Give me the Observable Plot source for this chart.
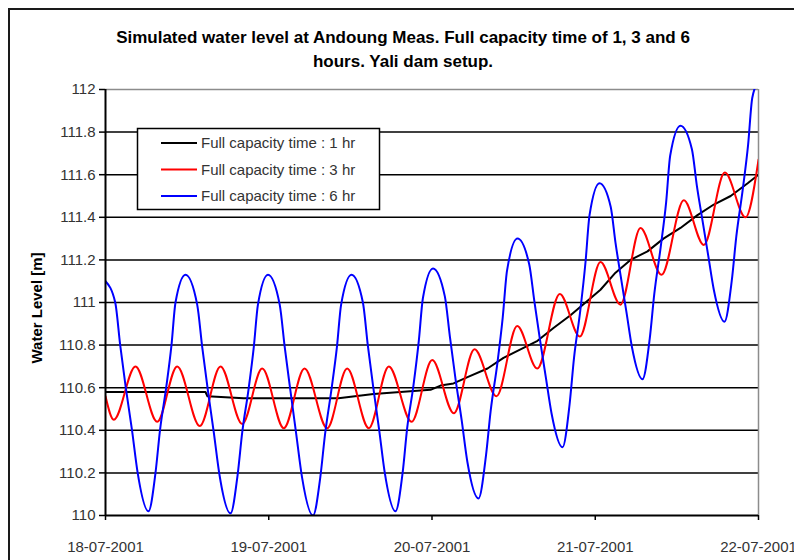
<!DOCTYPE html>
<html>
<head>
<meta charset="utf-8">
<script src="https://cdn.jsdelivr.net/npm/d3@7"></script>
<script src="https://cdn.jsdelivr.net/npm/@observablehq/plot@0.6"></script>
<style>
html, body { margin: 0; padding: 0; background: #fff; overflow: hidden; }
</style>
</head>
<body>
<div id="chart"></div>
<script>
// ---------- data ----------
const titleLines = [
  "Simulated water level at Andoung Meas. Full capacity time of 1, 3 and 6",
  "hours. Yali dam setup."
];
const yLabel = "Water Level [m]";
const seriesNames = ["Full capacity time : 1 hr", "Full capacity time : 3 hr", "Full capacity time : 6 hr"];
const seriesColors = ["#000000", "#ff0000", "#0000ff"];

const startDate = "2001-07-18T00:00:00Z";
const dateTicks = ["2001-07-18", "2001-07-19", "2001-07-20", "2001-07-21", "2001-07-22"];
const levelTicks = [110, 110.2, 110.4, 110.6, 110.8, 111, 111.2, 111.4, 111.6, 111.8, 112];
const levelTickLabels = ["110", "110.2", "110.4", "110.6", "110.8", "111", "111.2", "111.4", "111.6", "111.8", "112"];

// hours after 18-07-2001 00:00
const hours1 = [0, 14.70, 14.99, 20.29, 34.25, 39.40, 47.78, 49.25, 51.16, 53.22, 56.16, 58.51, 61.01, 63.51,
  65.86, 68.36, 70.57, 72.77, 74.98, 77.18, 79.68, 82.03, 84.53, 87.03, 89.43, 91.91, 94.41, 96.0];
const level1 = [110.58, 110.58, 110.56, 110.55, 110.55, 110.57, 110.59, 110.61, 110.62, 110.65, 110.69, 110.74, 110.78, 110.82,
  110.88, 110.94, 111.00, 111.06, 111.14, 111.20, 111.24, 111.30, 111.35, 111.41, 111.46, 111.50, 111.56, 111.60];

const hours3 = [0, 1.22, 4.41, 7.60, 10.54, 13.86, 16.91, 20.10, 23.04, 26.21, 29.26, 32.59, 35.53, 38.71, 41.65,
  44.99, 48.03, 51.21, 54.25, 57.48, 60.53, 63.47, 66.79, 69.73, 72.77, 75.71, 78.65, 81.74, 85.02, 87.96,
  91.05, 94.09, 96.0];
const level3 = [110.56, 110.45, 110.70, 110.44, 110.70, 110.42, 110.70, 110.43, 110.69, 110.41, 110.69, 110.41, 110.69, 110.41, 110.70,
  110.44, 110.73, 110.48, 110.78, 110.56, 110.89, 110.69, 111.04, 110.84, 111.19, 110.99, 111.35, 111.13, 111.48, 111.27,
  111.61, 111.40, 111.67];

const hours6 = [0, 1.43, 2.16, 2.98, 3.90, 4.73, 6.32,
  7.35, 8.01, 8.92, 9.70, 10.29, 11.76,
  13.48, 14.22, 15.04, 15.92, 16.76, 18.38,
  19.42, 20.10, 21.02, 21.80, 22.41, 23.89,
  25.61, 26.35, 27.17, 28.05, 28.89, 30.51,
  31.58, 32.27, 33.21, 34.02, 34.64, 36.17,
  37.84, 38.56, 39.37, 40.24, 41.06, 42.63,
  43.68, 44.35, 45.27, 46.06, 46.66, 48.15,
  49.88, 50.63, 51.46, 52.35, 53.21, 54.84,
  55.93, 56.62, 57.59, 58.40, 59.03, 60.57,
  62.29, 63.03, 63.85, 64.73, 65.57, 67.19,
  68.22, 68.88, 69.79, 70.57, 71.16, 72.63,
  74.27, 74.98, 75.76, 76.61, 77.40, 78.95,
  80.01, 80.68, 81.62, 82.42, 83.02, 84.53,
  86.21, 86.93, 87.74, 88.61, 89.43, 91.00,
  92.06, 92.74, 93.68, 94.47, 95.08, 96.0];
const level6 = [111.10, 111.00, 110.80, 110.60, 110.40, 110.20, 110.02,
  110.20, 110.40, 110.60, 110.80, 111.00, 111.13,
  110.99, 110.79, 110.59, 110.39, 110.19, 110.01,
  110.19, 110.39, 110.59, 110.79, 110.99, 111.13,
  110.99, 110.79, 110.59, 110.38, 110.18, 110.00,
  110.18, 110.38, 110.59, 110.79, 110.99, 111.13,
  111.00, 110.80, 110.60, 110.40, 110.20, 110.02,
  110.20, 110.41, 110.61, 110.82, 111.02, 111.16,
  111.03, 110.84, 110.64, 110.45, 110.25, 110.08,
  110.28, 110.49, 110.71, 110.93, 111.15, 111.30,
  111.18, 111.01, 110.83, 110.65, 110.48, 110.32,
  110.52, 110.74, 110.96, 111.19, 111.41, 111.56,
  111.45, 111.28, 111.12, 110.95, 110.79, 110.64,
  110.83, 111.04, 111.26, 111.47, 111.69, 111.83,
  111.72, 111.55, 111.39, 111.22, 111.06, 110.91,
  111.10, 111.31, 111.53, 111.74, 111.96, 112.04];

// ---------- build table ----------
const t0 = new Date(startDate).getTime();
const toRows = (hours, levels, series) => hours.map((h, i) => ({
  date: new Date(t0 + h * 3600e3), level: levels[i], series
}));
const rows1 = toRows(hours1, level1, seriesNames[0]);
const rows3 = toRows(hours3, level3, seriesNames[1]);
const rows6 = toRows(hours6, level6, seriesNames[2]);
const tickDates = dateTicks.map(d => new Date(d + "T00:00:00Z"));
const fmtDate = d3.utcFormat("%d-%m-%Y");
const FONT = "'Liberation Sans', Arial, sans-serif";

function decorations() {
  const g = d3.create("svg:g").attr("font-family", FONT).attr("text-anchor", "start");
  // outer frame
  g.append("path").attr("d", "M9,560V9H794").attr("fill", "none")
    .attr("stroke", "#1a1a1a").attr("stroke-width", 2);
  // title
  const t = g.append("text").attr("text-anchor", "middle").attr("font-weight", "bold")
    .attr("font-size", 17).attr("fill", "#000");
  titleLines.forEach((s, i) => t.append("tspan").attr("x", 403).attr("y", 43 + i * 24).text(s));
  // y label
  g.append("text").attr("transform", "translate(37,308) rotate(-90)")
    .attr("text-anchor", "middle").attr("dy", "0.35em")
    .attr("font-weight", "bold").attr("font-size", 15).attr("fill", "#000").text(yLabel);
  // legend
  g.append("rect").attr("x", 137.5).attr("y", 128.5).attr("width", 242).attr("height", 81)
    .attr("fill", "#fff").attr("stroke", "#000").attr("stroke-width", 1.5);
  seriesNames.forEach((name, i) => {
    const y = 143 + i * 26.5;
    g.append("line").attr("x1", 161).attr("x2", 197).attr("y1", y).attr("y2", y)
      .attr("stroke", seriesColors[i]).attr("stroke-width", 2);
    g.append("text").attr("x", 201).attr("y", y).attr("dy", "0.35em")
      .attr("text-anchor", "start")
      .attr("font-size", 15).attr("fill", "#333").text(name);
  });
  return g.node();
}

const chart = Plot.plot({
  width: 794,
  height: 560,
  marginLeft: 105,
  marginRight: 36,
  marginTop: 89,
  marginBottom: 45,
  style: { fontFamily: FONT, fontSize: "15px", background: "#fff", color: "#000", overflow: "hidden" },
  x: { type: "utc", domain: [tickDates[0], tickDates[tickDates.length - 1]] },
  y: { domain: [110, 112] },
  color: { domain: seriesNames, range: seriesColors },
  marks: [
    Plot.ruleY(levelTicks.filter(v => v > 110 && v < 112), { stroke: "#000", strokeWidth: 1.5 }),
    Plot.ruleY([112], { stroke: "#8c8c8c", strokeWidth: 1.5 }),
    Plot.ruleX([tickDates[tickDates.length - 1]], { stroke: "#8c8c8c", strokeWidth: 1.5 }),
    Plot.line(rows1, { x: "date", y: "level", stroke: "series", strokeWidth: 2, curve: "linear", clip: true }),
    Plot.line(rows3, { x: "date", y: "level", stroke: "series", strokeWidth: 2, curve: "monotone-x", clip: true }),
    Plot.line(rows6, { x: "date", y: "level", stroke: "series", strokeWidth: 2, curve: "monotone-x", clip: true }),
    Plot.ruleY([110], { stroke: "#000", strokeWidth: 2 }),
    Plot.ruleX([tickDates[0]], { stroke: "#000", strokeWidth: 2 }),
    Plot.axisY(levelTicks, {
      tickSize: 6, tickPadding: 4, stroke: "#000", strokeWidth: 1.5, fill: "#333",
      tickFormat: d => levelTickLabels[levelTicks.indexOf(d)], label: null
    }),
    Plot.axisX(tickDates, {
      tickSize: 5, tickPadding: 21, stroke: "#000", strokeWidth: 1.5, fill: "#333",
      tickFormat: d => fmtDate(d), label: null
    }),
    decorations
  ]
});
document.getElementById("chart").appendChild(chart);
</script>
</body>
</html>
